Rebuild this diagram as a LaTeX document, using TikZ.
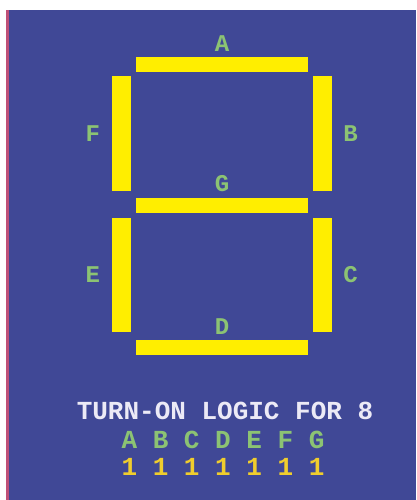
\documentclass[tikz,border=0pt]{standalone}
\usepackage{fontspec}
\usepackage{tikz}
\usetikzlibrary{positioning}
\newfontfamily\crtfont{Liberation Mono}

\definecolor{screenblue}{RGB}{64,72,150}
\definecolor{segyellow}{RGB}{255,238,0}
\definecolor{lblgreen}{RGB}{140,195,115}
\definecolor{bitgold}{RGB}{240,205,45}
\definecolor{titlewhite}{RGB}{236,234,246}
\definecolor{edgered}{RGB}{190,80,120}

\begin{document}
\begin{tikzpicture}[
  x=1pt, y=-1pt,
  node distance=5pt and 11pt,
  hseg/.style={rectangle, fill=segyellow, minimum width=172pt,
               minimum height=15pt, inner sep=0pt},
  vseg/.style={rectangle, fill=segyellow, minimum width=19pt,
               minimum height=114pt, inner sep=0pt},
  lbl/.style={text=lblgreen, font=\crtfont\bfseries\fontsize{24}{24}\selectfont,
              inner sep=0pt},
  title/.style={text=titlewhite, font=\crtfont\bfseries\fontsize{26}{26}\selectfont,
                inner sep=0pt},
  bits/.style={text=bitgold, font=\crtfont\bfseries\fontsize{26}{26}\selectfont,
               inner sep=0pt}]
  \useasboundingbox (0,0) rectangle (416,500);
  \fill[screenblue] (8,10) rectangle (416,500);
  \fill[edgered] (6,10) rectangle (8.5,500);
  % the seven segments
  \node[hseg] (segA) at (222,64.5) {};
  \node[hseg] (segG) at (222,205) {};
  \node[hseg] (segD) at (222,347) {};
  \node[vseg] (segF) at (121,133.5) {};
  \node[vseg] (segB) at (322.5,133.5) {};
  \node[vseg] (segE) at (121,275) {};
  \node[vseg] (segC) at (322.5,275) {};
  % segment names
  \node[lbl, above=of segA] {A};
  \node[lbl, above=of segG] {G};
  \node[lbl, above=of segD] {D};
  \node[lbl, left=of segF] {F};
  \node[lbl, left=of segE] {E};
  \node[lbl, right=of segB] {B};
  \node[lbl, right=of segC] {C};
  % truth table
  \node[title] (head) at (225,411) {TURN-ON LOGIC FOR 8};
  \node[lbl, font=\crtfont\bfseries\fontsize{26}{26}\selectfont] (names) at (223,440) {A B C D E F G};
  \node[bits] (ones) at (223,467) {1 1 1 1 1 1 1};
\end{tikzpicture}
\end{document}
